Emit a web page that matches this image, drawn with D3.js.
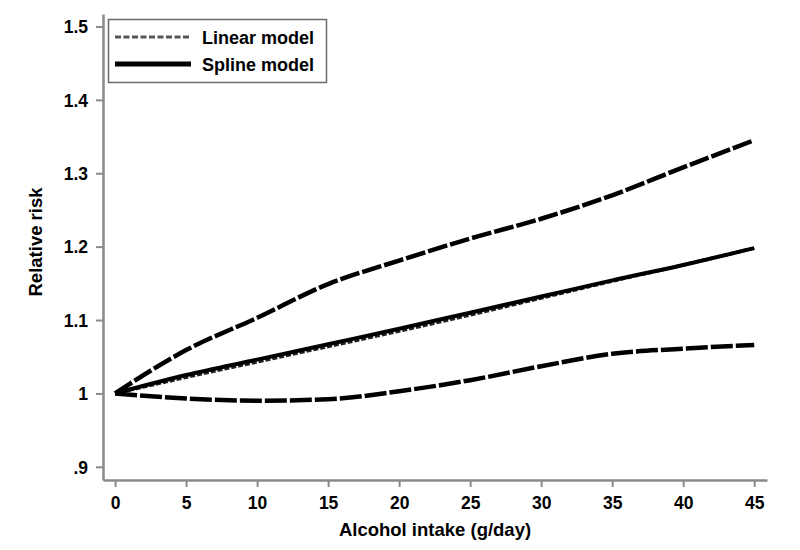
<!DOCTYPE html>
<html lang="en">
<head>
<meta charset="UTF-8">
<title>Alcohol intake and relative risk</title>
<style>
    body { margin: 0; background: #fff; }
    svg text { font-family: "Liberation Sans", Arial, sans-serif; font-weight: bold; fill: #000; }
</style>
</head>
<body>
<div id="container"></div>
<script src="https://cdn.jsdelivr.net/npm/d3@7/dist/d3.min.js"></script>
<script>
"use strict";

// intake in g/day
var intake = [0, 5, 10, 15, 20, 25, 30, 35, 40, 45];
var splineRR = [1.000, 1.025, 1.046, 1.067, 1.088, 1.110, 1.132, 1.154, 1.175, 1.198];
var linearRR = [1.000, 1.022, 1.043, 1.064, 1.085, 1.107, 1.130, 1.153, 1.175, 1.198];
var upperCI = [1.000, 1.059, 1.103, 1.149, 1.181, 1.211, 1.238, 1.270, 1.308, 1.345];
var lowerCI = [1.000, 0.993, 0.990, 0.992, 1.003, 1.018, 1.037, 1.054, 1.061, 1.066];

var xTicks = [0, 5, 10, 15, 20, 25, 30, 35, 40, 45];
var yTicks = [0.9, 1.0, 1.1, 1.2, 1.3, 1.4, 1.5];
var yTickLabels = [".9", "1", "1.1", "1.2", "1.3", "1.4", "1.5"];
var legendLabels = ["Linear model", "Spline model"];

(function () {

    var width = 800, height = 550;
    var plot = { left: 103, right: 767, top: 14, bottom: 480 };

    var svg = d3.select('#container')
        .append('svg')
        .attr('width', width)
        .attr('height', height);

    var x = d3.scaleLinear().domain([-0.85, 45.9]).range([plot.left, plot.right]);
    var y = d3.scaleLinear().domain([0.882, 1.517]).range([plot.bottom, plot.top]);

    // axes
    var xAxis = svg.append('g')
        .attr('transform', 'translate(0,' + plot.bottom + ')')
        .call(d3.axisBottom(x).tickValues(xTicks).tickSize(7).tickPadding(5).tickSizeOuter(0));

    var yAxis = svg.append('g')
        .attr('transform', 'translate(' + plot.left + ',0)')
        .call(d3.axisLeft(y).tickValues(yTicks).tickSize(7).tickPadding(8).tickSizeOuter(0)
            .tickFormat(function (d, i) { return yTickLabels[i]; }));

    [xAxis, yAxis].forEach(function (ax) {
        ax.select('.domain').attr('stroke', '#8a8a8a').attr('stroke-width', 2.5);
        ax.selectAll('.tick line').attr('stroke', '#8a8a8a').attr('stroke-width', 2);
        ax.selectAll('.tick text').style('font-size', '17.5px');
    });
    xAxis.selectAll('.tick text').attr('dy', '0.95em');
    yAxis.selectAll('.tick text').attr('dy', '0.36em');

    // axis titles
    svg.append('text')
        .attr('x', 435)
        .attr('y', 536)
        .attr('text-anchor', 'middle')
        .style('font-size', '18.5px')
        .text('Alcohol intake (g/day)');

    svg.append('text')
        .attr('transform', 'translate(42,242) rotate(-90)')
        .attr('text-anchor', 'middle')
        .style('font-size', '18.5px')
        .text('Relative risk');

    // curves
    var line = function (values) {
        return d3.line()
            .x(function (d, i) { return x(intake[i]); })
            .y(function (d) { return y(d); })
            .curve(d3.curveMonotoneX)(values);
    };

    var g = svg.append('g').attr('fill', 'none').attr('stroke-linecap', 'butt');

    g.append('path').attr('d', line(upperCI))
        .attr('stroke', '#000').attr('stroke-width', 4.5).attr('stroke-dasharray', '20,3');

    g.append('path').attr('d', line(lowerCI))
        .attr('stroke', '#000').attr('stroke-width', 4.5).attr('stroke-dasharray', '22,3');

    g.append('path').attr('d', line(linearRR))
        .attr('stroke', '#222').attr('stroke-width', 3.5).attr('stroke-dasharray', '5,2');

    g.append('path').attr('d', line(splineRR))
        .attr('stroke', '#000').attr('stroke-width', 4);

    // legend
    var legend = svg.append('g');
    legend.append('rect')
        .attr('x', 108.5).attr('y', 19.5)
        .attr('width', 218).attr('height', 63)
        .attr('fill', '#fff')
        .attr('stroke', '#6a6a6a').attr('stroke-width', 1.5);

    var legendStyles = [
        { stroke: '#555', width: 3, dash: '6,2.5' },
        { stroke: '#000', width: 5, dash: null }
    ];

    legendLabels.forEach(function (label, i) {
        var ly = 37 + i * 27;
        legend.append('line')
            .attr('x1', 115).attr('x2', 191)
            .attr('y1', ly).attr('y2', ly)
            .attr('stroke', legendStyles[i].stroke)
            .attr('stroke-width', legendStyles[i].width)
            .attr('stroke-dasharray', legendStyles[i].dash);
        legend.append('text')
            .attr('x', 202)
            .attr('y', ly + 7)
            .style('font-size', '18px')
            .text(label);
    });

})();
</script>
</body>
</html>
